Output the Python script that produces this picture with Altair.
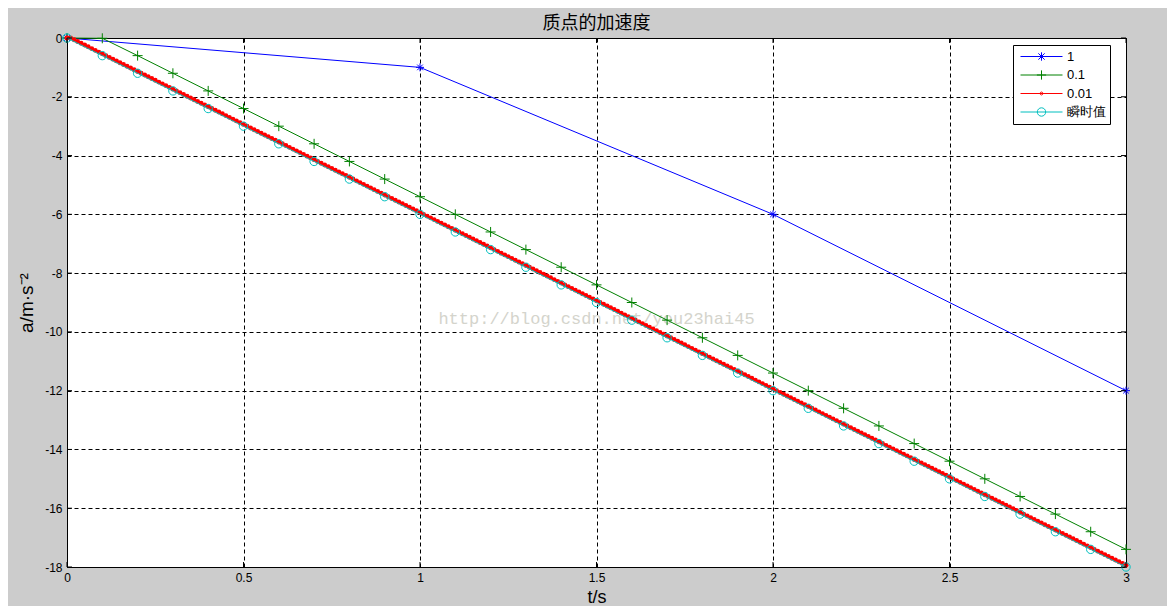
import altair as alt
import pandas as pd

# ---------------- data ----------------
series_names = ["1", "0.1", "0.01", "瞬时值"]
series_colors = ["#0000ff", "#008000", "#ff0000", "#00bfbf"]

t_h1 = [0, 1, 2, 3]
a_h1 = [0, -1, -6, -12]

t_h01 = [round(0.1 * i, 1) for i in range(31)]
a_h01 = [0, -0.01, -0.6, -1.2, -1.8, -2.4, -3.0, -3.6, -4.2, -4.8, -5.4,
         -6.0, -6.6, -7.2, -7.8, -8.4, -9.0, -9.6, -10.2, -10.8, -11.4,
         -12.0, -12.6, -13.2, -13.8, -14.4, -15.0, -15.6, -16.2, -16.8, -17.4]

t_h001 = [round(0.01 * i, 2) for i in range(301)]
a_h001 = [0, -0.0001,
    -0.06, -0.12, -0.18, -0.24, -0.3, -0.36, -0.42, -0.48, -0.54, -0.6,
    -0.66, -0.72, -0.78, -0.84, -0.9, -0.96, -1.02, -1.08, -1.14, -1.2,
    -1.26, -1.32, -1.38, -1.44, -1.5, -1.56, -1.62, -1.68, -1.74, -1.8,
    -1.86, -1.92, -1.98, -2.04, -2.1, -2.16, -2.22, -2.28, -2.34, -2.4,
    -2.46, -2.52, -2.58, -2.64, -2.7, -2.76, -2.82, -2.88, -2.94, -3.0,
    -3.06, -3.12, -3.18, -3.24, -3.3, -3.36, -3.42, -3.48, -3.54, -3.6,
    -3.66, -3.72, -3.78, -3.84, -3.9, -3.96, -4.02, -4.08, -4.14, -4.2,
    -4.26, -4.32, -4.38, -4.44, -4.5, -4.56, -4.62, -4.68, -4.74, -4.8,
    -4.86, -4.92, -4.98, -5.04, -5.1, -5.16, -5.22, -5.28, -5.34, -5.4,
    -5.46, -5.52, -5.58, -5.64, -5.7, -5.76, -5.82, -5.88, -5.94, -6.0,
    -6.06, -6.12, -6.18, -6.24, -6.3, -6.36, -6.42, -6.48, -6.54, -6.6,
    -6.66, -6.72, -6.78, -6.84, -6.9, -6.96, -7.02, -7.08, -7.14, -7.2,
    -7.26, -7.32, -7.38, -7.44, -7.5, -7.56, -7.62, -7.68, -7.74, -7.8,
    -7.86, -7.92, -7.98, -8.04, -8.1, -8.16, -8.22, -8.28, -8.34, -8.4,
    -8.46, -8.52, -8.58, -8.64, -8.7, -8.76, -8.82, -8.88, -8.94, -9.0,
    -9.06, -9.12, -9.18, -9.24, -9.3, -9.36, -9.42, -9.48, -9.54, -9.6,
    -9.66, -9.72, -9.78, -9.84, -9.9, -9.96, -10.02, -10.08, -10.14, -10.2,
    -10.26, -10.32, -10.38, -10.44, -10.5, -10.56, -10.62, -10.68, -10.74, -10.8,
    -10.86, -10.92, -10.98, -11.04, -11.1, -11.16, -11.22, -11.28, -11.34, -11.4,
    -11.46, -11.52, -11.58, -11.64, -11.7, -11.76, -11.82, -11.88, -11.94, -12.0,
    -12.06, -12.12, -12.18, -12.24, -12.3, -12.36, -12.42, -12.48, -12.54, -12.6,
    -12.66, -12.72, -12.78, -12.84, -12.9, -12.96, -13.02, -13.08, -13.14, -13.2,
    -13.26, -13.32, -13.38, -13.44, -13.5, -13.56, -13.62, -13.68, -13.74, -13.8,
    -13.86, -13.92, -13.98, -14.04, -14.1, -14.16, -14.22, -14.28, -14.34, -14.4,
    -14.46, -14.52, -14.58, -14.64, -14.7, -14.76, -14.82, -14.88, -14.94, -15.0,
    -15.06, -15.12, -15.18, -15.24, -15.3, -15.36, -15.42, -15.48, -15.54, -15.6,
    -15.66, -15.72, -15.78, -15.84, -15.9, -15.96, -16.02, -16.08, -16.14, -16.2,
    -16.26, -16.32, -16.38, -16.44, -16.5, -16.56, -16.62, -16.68, -16.74, -16.8,
    -16.86, -16.92, -16.98, -17.04, -17.1, -17.16, -17.22, -17.28, -17.34, -17.4,
    -17.46, -17.52, -17.58, -17.64, -17.7, -17.76, -17.82, -17.88, -17.94]

t_inst = [round(0.1 * i, 1) for i in range(31)]
a_inst = [0, -0.6, -1.2, -1.8, -2.4, -3.0, -3.6, -4.2, -4.8, -5.4, -6.0,
          -6.6, -7.2, -7.8, -8.4, -9.0, -9.6, -10.2, -10.8, -11.4, -12.0,
          -12.6, -13.2, -13.8, -14.4, -15.0, -15.6, -16.2, -16.8, -17.4, -18.0]

x_ticks = [0, 0.5, 1, 1.5, 2, 2.5, 3]
y_ticks = [0, -2, -4, -6, -8, -10, -12, -14, -16, -18]

title_text = "质点的加速度"
x_title = "t/s"
y_title = "a/m·s⁻²"
watermark = ["http://blog.csdn.net/you23hai45"]
watermark_t = [1.5]
watermark_a = [-9.55]

# ---------------- frames ----------------
frames = []
for name, ts, as_ in [("1", t_h1, a_h1), ("0.1", t_h01, a_h01),
                      ("0.01", t_h001, a_h001), ("瞬时值", t_inst, a_inst)]:
    frames.append(pd.DataFrame({"t": ts, "a": as_, "series": name}))
df = pd.concat(frames, ignore_index=True)

W, H = 1059, 529
FONT = "Liberation Sans"

x_scale = alt.Scale(domain=[0, 3], nice=False, zero=False)
y_scale = alt.Scale(domain=[-18, 0], nice=False, zero=False)

x_axis = alt.Axis(values=x_ticks, title=x_title, labelExpr="'' + datum.value",
                  grid=True, gridColor="black", gridDash=[4, 3], gridWidth=1, gridOpacity=1,
                  ticks=False, domain=False, labelFlush=False, labelOverlap=False,
                  labelFont=FONT, labelFontSize=12, labelColor="black", labelPadding=5,
                  titleFont=FONT, titleFontSize=18, titleFontWeight="normal",
                  titleColor="black", titlePadding=5)
y_axis = alt.Axis(values=y_ticks, title=y_title, labelExpr="'' + datum.value",
                  grid=True, gridColor="black", gridDash=[4, 3], gridWidth=1, gridOpacity=1,
                  ticks=False, domain=False, labelFlush=False, labelOverlap=False,
                  labelFont=FONT, labelFontSize=12, labelColor="black", labelPadding=5,
                  titleFont=FONT, titleFontSize=19, titleFontWeight="normal",
                  titleColor="black", titlePadding=8)

X = alt.X("t:Q", scale=x_scale, axis=x_axis)
Y = alt.Y("a:Q", scale=y_scale, axis=y_axis)

base = alt.Chart(df)

# watermark (faint)
wm_df = pd.DataFrame({"t": watermark_t, "a": watermark_a, "txt": watermark})
wm = alt.Chart(wm_df).mark_text(font="Liberation Mono", fontSize=17, color="#d4d4cc",
                                align="center", baseline="middle").encode(
    x=X, y=Y, text="txt:N")

plus_path = "M-1,0L1,0M0,-1L0,1"
star_path = "M-1,0L1,0M0,-1L0,1M-0.7,-0.7L0.7,0.7M-0.7,0.7L0.7,-0.7"

layers = [wm]
marker_specs = {
    "1": dict(shape=star_path, size=64, filled=False),
    "0.1": dict(shape=plus_path, size=100, filled=False),
    "0.01": dict(shape="circle", size=24, filled=True),
    "瞬时值": dict(shape="circle", size=70, filled=False),
}
for name, col in zip(series_names, series_colors):
    sub = base.transform_filter(alt.datum.series == name)
    layers.append(sub.mark_line(color=col, strokeWidth=1).encode(x=X, y=Y, order="t:Q"))
    spec = marker_specs[name]
    layers.append(sub.mark_point(color=col, strokeWidth=1, opacity=1, **spec).encode(x=X, y=Y))

# inside tick marks on all four sides
xt_df = pd.DataFrame({"t": x_ticks})
yt_df = pd.DataFrame({"a": y_ticks})
TL = 5
layers += [
    alt.Chart(xt_df).mark_rule(color="black", strokeWidth=1).encode(x=X, y=alt.value(0), y2=alt.value(TL)),
    alt.Chart(xt_df).mark_rule(color="black", strokeWidth=1).encode(x=X, y=alt.value(H), y2=alt.value(H - TL)),
    alt.Chart(yt_df).mark_rule(color="black", strokeWidth=1).encode(y=Y, x=alt.value(0), x2=alt.value(TL)),
    alt.Chart(yt_df).mark_rule(color="black", strokeWidth=1).encode(y=Y, x=alt.value(W), x2=alt.value(W - TL)),
]

# legend layer (no marks drawn, only the legend)
leg_paths = [
    "M-1,0L1,0M0,-0.2L0,0.2M-0.15,-0.15L0.15,0.15M-0.15,0.15L0.15,-0.15",
    "M-1,0L1,0M0,-0.22L0,0.22M-0.22,0L0.22,0",
    "M-1,0L1,0M-0.07,0A0.07,0.07 0 1,1 0.07,0A0.07,0.07 0 1,1 -0.07,0",
    "M-1,0L1,0M-0.2,0A0.2,0.2 0 1,1 0.2,0A0.2,0.2 0 1,1 -0.2,0",
]
legend = alt.Legend(title=None, orient="none", legendX=946, legendY=7,
                    fillColor="white", strokeColor="black", cornerRadius=0,
                    padding=4, symbolOffset=3, symbolSize=1764, symbolStrokeWidth=1, symbolOpacity=1,
                    clipHeight=15, rowPadding=3.5, labelOffset=4,
                    labelFont=FONT, labelFontSize=13, labelColor="black")
leg_layer = base.transform_filter("datum.t < -100").mark_point(filled=False, strokeWidth=1).encode(
    x=X, y=Y,
    color=alt.Color("series:N", scale=alt.Scale(domain=series_names, range=series_colors), legend=legend),
    shape=alt.Shape("series:N", scale=alt.Scale(domain=series_names, range=leg_paths), legend=legend),
)
layers.append(leg_layer)

chart = alt.layer(*layers).properties(
    width=W, height=H,
    title=alt.TitleParams(text=title_text, font="Noto Sans CJK SC", fontSize=18,
                          fontWeight="normal", color="black", anchor="middle", offset=0, dy=2),
    autosize=alt.AutoSizeParams(type="none"),
    padding={"left": 59, "top": 30, "right": 41, "bottom": 39},
).configure(background="#cccccc").configure_view(fill="white", stroke="black", strokeWidth=1)

chart.save("out.html", embed_options={"renderer": "svg", "actions": False})
